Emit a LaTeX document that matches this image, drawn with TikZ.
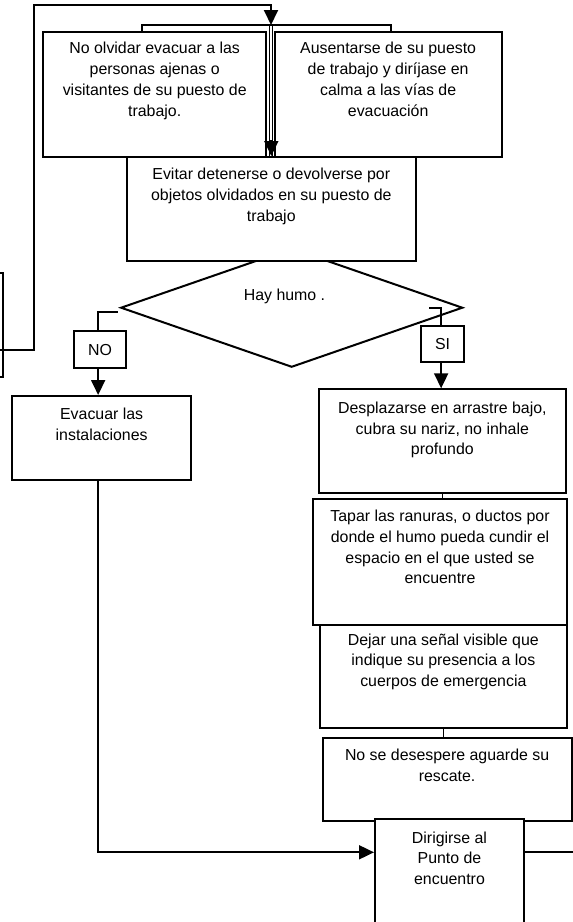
\documentclass[tikz,border=0pt]{standalone}
\usepackage{fontspec}
\setmainfont{Liberation Sans}
\usetikzlibrary{arrows.meta,shapes.geometric}
\begin{document}
\begin{tikzpicture}[x=1pt,y=-1pt,
  bx/.style={draw,line width=2pt,fill=white,inner sep=0pt,rectangle},
  txt/.style={anchor=north,align=center,inner sep=0pt,font=\fontsize{15.9}{20.7}\selectfont},
  lbl/.style={font=\fontsize{15.9}{20.7}\selectfont},
  ln/.style={line width=1.9pt},
  arr/.style={line width=1.9pt,-{Triangle[length=15pt,width=14pt]}}]
\useasboundingbox (0,0) rectangle (573,922);
% diamond (drawn first, Evitar box covers its top)
\node[draw,line width=2pt,shape=diamond,inner sep=0pt,minimum width=342pt,minimum height=119pt] (d) at (291.7,307.7) {};
\node[lbl,anchor=base,inner sep=0pt] (dt) at (284.5,300) {Hay humo .};
% boxes
\node[bx,minimum width=222.6pt,minimum height=125.3pt] (b1) at (154.7,94.35) {};
\node[txt] (b1t) at (154.7,39.3) {\strut No olvidar evacuar a las\\personas ajenas o\\visitantes de su puesto de\\trabajo.};
\node[bx,minimum width=227.3pt,minimum height=125.3pt] (b2) at (388.15,94.35) {};
\node[txt] (b2t) at (388.15,39.3) {\strut Ausentarse de su puesto\\de trabajo y diríjase en\\calma a las vías de\\evacuación};
\node[bx,minimum width=289pt,minimum height=104pt] (b3) at (271.3,209) {};
\node[txt] (b3t) at (271.3,165) {\strut Evitar detenerse o devolverse por\\objetos olvidados en su puesto de\\trabajo};
\node[bx,minimum width=23.3pt,minimum height=104pt] (p) at (-8.35,325) {};
\node[bx,lbl,minimum width=52.3pt,minimum height=37.3pt] (no) at (100.15,349.65) {NO};
\node[bx,lbl,minimum width=43.3pt,minimum height=36.3pt] (si) at (442.65,343.85) {SI};
\node[bx,minimum width=178.7pt,minimum height=84pt] (ev) at (101.65,438) {};
\node[txt] (evt) at (101.65,405) {\strut Evacuar las\\instalaciones};
\node[bx,minimum width=246.7pt,minimum height=104pt] (de) at (442.35,441.3) {};
\node[txt] (det) at (442.35,398.7) {\strut Desplazarse en arrastre bajo,\\cubra su nariz, no inhale\\profundo};
\node[bx,minimum width=253.4pt,minimum height=126pt] (ta) at (440,562) {};
\node[txt] (tat) at (440,507) {\strut Tapar las ranuras, o ductos por\\donde el humo pueda cundir el\\espacio en el que usted se\\encuentre};
\node[bx,minimum width=246.7pt,minimum height=103.3pt] (dj) at (443.35,676.65) {};
\node[txt] (djt) at (443.35,630.3) {\strut Dejar una señal visible que\\indique su presencia a los\\cuerpos de emergencia};
\node[bx,minimum width=249.2pt,minimum height=83pt] (ns) at (447.1,779.5) {};
\node[txt] (nst) at (447.1,746) {\strut No se desespere aguarde su\\rescate.};
\node[bx,minimum width=149pt,minimum height=120.7pt] (di) at (449.5,879.65) {};
\node[txt] (dit) at (449.5,828.3) {\strut Dirigirse al\\Punto de\\encuentro};
% coordinates
\coordinate (top) at (271,25);
\coordinate (lp) at (0,350.3);
\coordinate (nos) at (117.7,311.7);
\coordinate (sis) at (429.3,308.3);
\coordinate (re) at (573,851.7);
% connectors
\draw[arr] (lp) -| (34,4.7) -| (top);
\draw[ln] ([xshift=99.2pt]b1.north west) |- (top) -| ([xshift=117.5pt]b2.north west);
\draw[line width=1.2pt] ([xshift=-1.5pt]top) -- ([xshift=-1.5pt]top |- b3.north);
\draw[line width=1.2pt] ([xshift=1.5pt]top) -- ([xshift=1.5pt]top |- b3.north);
\draw[arr] ([yshift=16pt]b3.north) -- (b3.north);
\draw[ln] (nos) -| ([xshift=-2.5pt]no.north);
\draw[arr] ([xshift=-2pt]no.south) -- ([xshift=-2pt]no.south |- ev.north);
\draw[ln] (sis) -| ([xshift=-1.5pt]si.north);
\draw[arr] ([xshift=-1.5pt]si.south) -- ([xshift=-1.5pt]si.south |- de.north);
\draw[line width=1pt] (de.south) -- (de.south |- ta.north);
\draw[line width=1pt] (dj.south) -- (dj.south |- ns.north);
\draw[arr] ([xshift=-3.5pt]ev.south) |- ([yshift=-34pt]di.north west);
\draw[ln] (di.east |- re) -- (re);
\end{tikzpicture}
\end{document}
